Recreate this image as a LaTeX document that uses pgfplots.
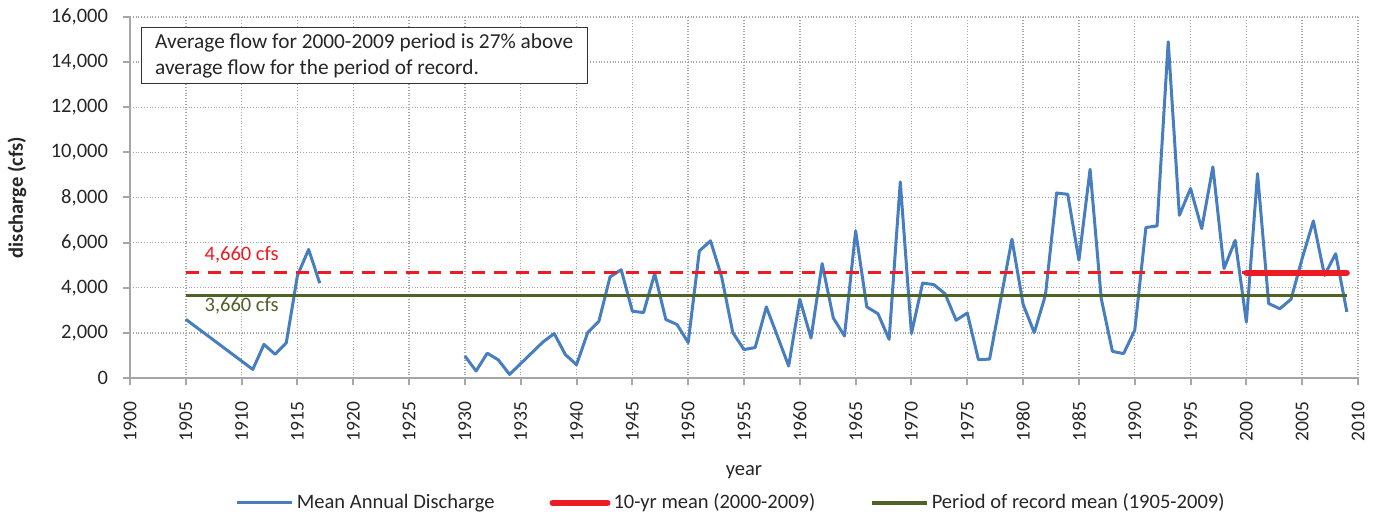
\documentclass[border=0pt]{standalone}
\usepackage{fontspec}
\setmainfont{Carlito}
\usepackage{pgfplots}
\usepackage{pgfplotstable}
\pgfplotsset{compat=1.18}
\definecolor{cblue}{RGB}{70,126,192}
\definecolor{cred}{RGB}{237,28,36}
\definecolor{cgreen}{RGB}{79,98,40}
\definecolor{cgrid}{RGB}{166,166,166}
\definecolor{ctext}{RGB}{38,38,38}
\pgfplotstableread{
year q
1905 2600
1911 380
1912 1490
1913 1050
1914 1560
1915 4540
1916 5700
1917 4200
1918 nan
1930 975
1931 310
1932 1100
1933 800
1934 160
1935 640
1936 1120
1937 1600
1938 1970
1939 1035
1940 590
1941 2010
1942 2510
1943 4480
1944 4800
1945 2960
1946 2900
1947 4630
1948 2590
1949 2370
1950 1570
1951 5630
1952 6080
1953 4480
1954 2010
1955 1260
1956 1350
1957 3150
1958 1850
1959 530
1960 3490
1961 1770
1962 5070
1963 2660
1964 1860
1965 6520
1966 3150
1967 2850
1968 1710
1969 8690
1970 1970
1971 4210
1972 4140
1973 3740
1974 2560
1975 2880
1976 810
1977 840
1978 3490
1979 6150
1980 3270
1981 2010
1982 3670
1983 8200
1984 8140
1985 5220
1986 9250
1987 3520
1988 1180
1989 1080
1990 2110
1991 6670
1992 6740
1993 14900
1994 7210
1995 8400
1996 6620
1997 9360
1998 4850
1999 6100
2000 2480
2001 9060
2002 3300
2003 3070
2004 3490
2005 5300
2006 6960
2007 4550
2008 5510
2009 2930
}\flow
\pgfplotstableread{
year q
2000 4660
2009 4660
}\tenyr
\pgfplotstableread{
year q
1905 3660
2009 3660
}\record
\pgfplotstableread{
year q
1905 4660
2000 4660
}\tenyrdash
\begin{document}
\begin{tikzpicture}
\begin{axis}[
  name=ax,
  scale only axis,
  width=614bp, height=180.5bp,
  xmin=1900, xmax=2010, ymin=0, ymax=16000,
  xtick={1900,1905,...,2010},
  ytick={0,2000,...,16000},
  scaled y ticks=false,
  axis lines=left,
  axis line style={-, color=cgrid, line width=1bp},
  grid=major,
  grid style={densely dotted, color=cgrid, line width=0.7bp},
  tick align=outside,
  major tick length=3.5bp,
  tick style={color=cgrid, line width=1bp},
  unbounded coords=jump,
  font=\fontsize{10.3}{12.4}\selectfont,
  /pgf/number format/assume math mode=true,
  x tick label style={rotate=90, anchor=east, xshift=-5bp, text=ctext,
    /pgf/number format/1000 sep={}, font=\fontsize{9.8}{12}\selectfont},
  y tick label style={text=ctext, xshift=-4bp, /pgf/number format/fixed, /pgf/number format/1000 sep={,}},
  xlabel={year},
  ylabel={\textbf{discharge (cfs)}},
  xlabel style={at={(axis description cs:0.5,-0.262)}, anchor=center, text=ctext},
  ylabel style={at={(axis description cs:-0.092,0.5)}, anchor=center, text=ctext},
  legend columns=3,
  legend style={draw=none, fill=none, at={(axis description cs:0.490,-0.346)}, anchor=center,
    font=\fontsize{10.3}{12.4}\selectfont, text=ctext,
    /tikz/every even column/.append style={column sep=26bp},
    nodes={inner sep=1.5bp}},
  legend image code/.code={\draw[#1] (0bp,0bp) -- (27.5bp,0bp);},
  clip=false,
]
\addplot[color=cblue, line width=1.5bp, line join=round] table[x=year,y=q] {\flow};
\addlegendentry{Mean Annual Discharge}
\addplot[color=cred, line width=3bp, line cap=round] table[x=year,y=q] {\tenyr};
\addlegendentry{10-yr mean (2000-2009)}
\addplot[color=cgreen, line width=1.75bp] table[x=year,y=q] {\record};
\addlegendentry{Period of record mean (1905-2009)}
\addplot[color=cred, line width=1.5bp, dash pattern=on 6.5bp off 4.5bp, forget plot] table[x=year,y=q] {\tenyrdash};
\node[text=cred, anchor=center, font=\fontsize{10.3}{12.4}\selectfont] at (axis cs:1910,5480) {4,660 cfs};
\node[text=cgreen, anchor=center, font=\fontsize{10.3}{12.4}\selectfont] at (axis cs:1910,3200) {3,660 cfs};
\node[draw=black!80, line width=0.6bp, fill=white, anchor=north west, align=left,
  minimum width=221.5bp, inner xsep=7bp, inner ysep=3bp, minimum height=28bp, text=ctext,
  font=\fontsize{10.7}{13}\selectfont] at (axis cs:1900.95,15560)
  {Average flow for 2000-2009 period is 27\% above\\average flow for the period of record.};
\end{axis}
\pgfresetboundingbox
\useasboundingbox ([xshift=-65bp,yshift=-68.5bp]ax.south west) rectangle ([xshift=10.5bp,yshift=8.5bp]ax.north east);
\end{tikzpicture}
\end{document}
